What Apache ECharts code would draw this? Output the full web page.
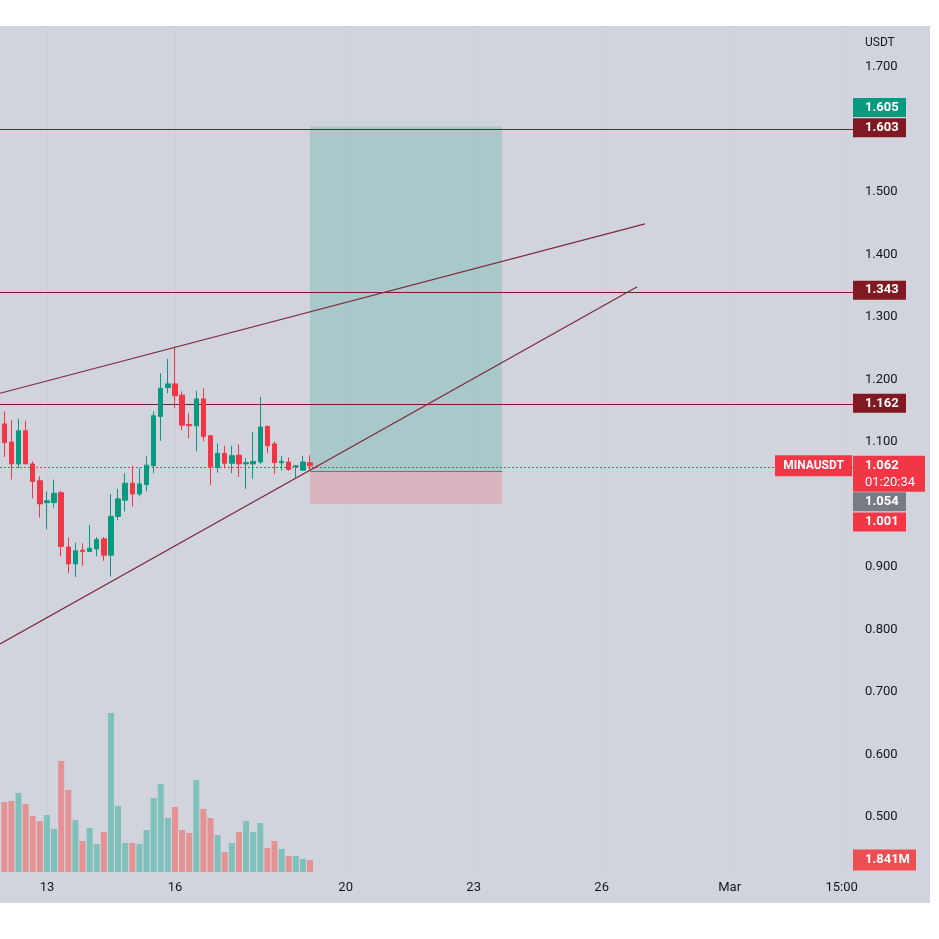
<!DOCTYPE html>
<html>
<head>
<meta charset="utf-8">
<title>MINAUSDT 4h</title>
<script src="https://cdn.jsdelivr.net/npm/echarts@6/dist/echarts.min.js"></script>
<style>
  html, body { margin: 0; padding: 0; background: #fff; }
  #main { position: absolute; left: 0; top: 26px; width: 930px; height: 877px; }
</style>
</head>
<body>
<div id="main"></div>
<script>
// 4h candles, index 0 = Feb 12 00:00
var candleOpen  = [1.129,1.100,1.065,1.118,1.065,1.038,1.003,1.003,1.019,0.932,0.905,0.927,0.925,0.929,0.945,0.919,0.981,1.007,1.034,1.017,1.032,1.062,1.141,1.187,1.193,1.175,1.128,1.126,1.169,1.110,1.059,1.082,1.066,1.079,1.065,1.065,1.068,1.125,1.097,1.067,1.068,1.061,1.055,1.067];
var candleClose = [1.099,1.065,1.118,1.065,1.037,1.001,1.006,1.018,0.933,0.905,0.926,0.925,0.930,0.944,0.919,0.981,1.009,1.034,1.017,1.033,1.063,1.142,1.186,1.193,1.174,1.127,1.126,1.169,1.109,1.061,1.082,1.066,1.078,1.065,1.067,1.069,1.124,1.094,1.067,1.069,1.056,1.062,1.068,1.062];
var candleLow   = [1.076,1.040,1.058,1.065,1.010,0.979,0.960,0.995,0.917,0.890,0.884,0.902,0.924,0.917,0.910,0.885,0.975,0.989,0.997,1.013,1.021,1.050,1.102,1.178,1.154,1.119,1.106,1.085,1.101,1.031,1.051,1.058,1.050,1.044,1.025,1.041,1.065,1.082,1.049,1.054,1.054,1.043,1.054,1.054];
var candleHigh  = [1.149,1.135,1.137,1.134,1.069,1.045,1.021,1.040,1.022,0.947,0.939,0.938,0.967,0.948,0.948,1.017,1.025,1.050,1.062,1.058,1.077,1.149,1.210,1.233,1.253,1.181,1.146,1.182,1.186,1.111,1.098,1.094,1.094,1.096,1.074,1.116,1.172,1.126,1.101,1.078,1.075,1.063,1.078,1.079];
// volume, millions
var volumes = [10.74,10.89,12.12,10.43,8.59,7.82,8.74,6.60,17.03,12.58,7.98,4.76,6.75,4.30,6.14,24.39,10.13,4.45,4.45,4.30,6.44,11.35,13.50,8.28,9.97,6.44,5.98,14.11,9.67,8.28,5.68,3.07,4.45,6.14,7.82,6.14,7.52,3.68,4.76,3.53,2.45,2.45,1.99,1.841];

var xTickIdx = [6, 24, 48, 66, 84, 102, 117.75];
var xTickText = ['13', '16', '20', '23', '26', 'Mar', '15:00'];
var priceTicks = [0.5, 0.6, 0.7, 0.8, 0.9, 1.1, 1.2, 1.3, 1.4, 1.5, 1.7];

var levels = [1.603, 1.343, 1.162];
var lastPrice = 1.062;
var upperTrend = [[-0.6, 1.178], [90.1, 1.449]];
var lowerTrend = [[-0.6, 0.777], [89.0, 1.3485]];
// long position tool
var posStart = 43, posEnd = 70;
var posTarget = 1.605, posEntry = 1.054, posStop = 1.001;

var tagPrices = [1.605, 1.603, 1.343, 1.162, 1.062, 1.054, 1.001];
var tagColors = ['#089981', '#801922', '#801922', '#801922', '#f23645', '#787b86', '#f23645'];
var tagShift = [-19, 0, 0, 0, 0, 31, 18]; // nudges so tags don't overlap

var X_MIN = -0.605, X_MAX = 119.35;
var UP = '#089981', DOWN = '#f23645';
var FONT = 'Roboto, "Liberation Sans", sans-serif';

var candles = candleOpen.map(function (o, i) {
    return [i, o, candleClose[i], candleLow[i], candleHigh[i]];
});
var volData = volumes.map(function (v, i) {
    return {
        value: [i, v],
        itemStyle: { color: candleClose[i] >= candleOpen[i] ? '#7fc0bb' : '#e59294' }
    };
});

function tagBox(x, y, w, h, fill, txt) {
    return [
        { type: 'rect', shape: { x: x, y: y, width: w, height: h }, style: { fill: fill } },
        { type: 'text', x: x + 12, y: y + h / 2, style: {
            text: txt, fill: '#fff', font: 'bold 13px ' + FONT, verticalAlign: 'middle', align: 'left' } }
    ];
}

var myChart = echarts.init(document.getElementById('main'));
var xSplit = { show: true, lineStyle: { color: '#cbced6', width: 1 } };

var option = {
    animation: false,
    backgroundColor: '#d1d4dc',
    textStyle: { fontFamily: FONT },
    graphic: [
        { type: 'text', left: 865, top: 11, style: { text: 'USDT', fill: '#131722', font: '12px ' + FONT } }
    ],
    grid: [
        { left: 0, top: 0, width: 853, height: 846 },
        { left: 0, top: 646, width: 853, height: 200 }
    ],
    xAxis: [
        { type: 'value', gridIndex: 0, min: X_MIN, max: X_MAX,
          axisLine: { show: false }, axisTick: { show: false, customValues: xTickIdx },
          axisLabel: { show: false, customValues: xTickIdx }, splitLine: xSplit },
        { type: 'value', gridIndex: 1, min: X_MIN, max: X_MAX,
          axisLine: { show: false }, axisTick: { show: false, customValues: xTickIdx },
          axisLabel: { customValues: xTickIdx, color: '#131722', fontSize: 13, margin: 9,
              formatter: function (v) {
                  var k = xTickIdx.indexOf(v);
                  return k < 0 ? '' : xTickText[k];
              } },
          splitLine: { show: false } }
    ],
    yAxis: [
        { type: 'value', gridIndex: 0, position: 'right', min: 0.412, max: 1.7656,
          axisLine: { show: false }, axisTick: { show: false, customValues: priceTicks },
          axisLabel: { customValues: priceTicks, color: '#131722', fontSize: 13, margin: 12,
              formatter: function (v) { return v.toFixed(3); } },
          splitLine: { show: false } },
        { type: 'value', gridIndex: 1, position: 'right', min: 0, max: 30.68, show: false,
          splitLine: { show: false } }
    ],
    series: [
        {
            name: 'vol', type: 'bar', xAxisIndex: 1, yAxisIndex: 1,
            barWidth: 6, data: volData, z: 1
        },
        {
            name: 'MINAUSDT', type: 'candlestick', xAxisIndex: 0, yAxisIndex: 0,
            barWidth: 5, data: candles, encode: { x: 0, y: [1, 2, 3, 4] }, z: 5,
            itemStyle: { color: UP, color0: DOWN, borderColor: UP, borderColor0: DOWN, borderWidth: 1 },
            markArea: {
                silent: true,
                data: [
                    [{ coord: [posStart, posTarget], itemStyle: { color: 'rgba(8,153,129,0.2)' } },
                     { coord: [posEnd, posEntry] }],
                    [{ coord: [posStart, posEntry], itemStyle: { color: 'rgba(242,54,69,0.2)' } },
                     { coord: [posEnd, posStop] }]
                ]
            },
            markLine: {
                silent: true, symbol: 'none', label: { show: false },
                data: levels.map(function (p) {
                    return { yAxis: p, lineStyle: { color: '#7b1b2b', width: 1.2, type: 'solid' } };
                }).concat([
                    { yAxis: lastPrice, lineStyle: { color: DOWN, width: 1, type: [2, 2] } },
                    [{ coord: [posStart, posEntry], lineStyle: { color: '#6f727c', width: 1, type: 'solid' } },
                     { coord: [posEnd, posEntry] }]
                ])
            }
        },
        {
            type: 'line', xAxisIndex: 0, yAxisIndex: 0, data: upperTrend, symbol: 'none', z: 6,
            lineStyle: { color: '#7e2a3b', width: 1.2 }
        },
        {
            type: 'line', xAxisIndex: 0, yAxisIndex: 0, data: lowerTrend, symbol: 'none', z: 6,
            lineStyle: { color: '#7e2a3b', width: 1.2 }
        },
        {
            type: 'custom', xAxisIndex: 0, yAxisIndex: 0, clip: false, silent: true, z: 20,
            data: tagPrices.map(function (p) { return [X_MAX, p]; }),
            renderItem: function (params, api) {
                var i = params.dataIndex;
                var pt = api.coord([api.value(0), api.value(1)]);
                var x = pt[0], y = pt[1] + tagShift[i];
                var txt = tagPrices[i].toFixed(3);
                var kids;
                if (tagPrices[i] === lastPrice) {
                    kids = [
                        { type: 'rect', shape: { x: x - 78, y: y - 10.5, width: 77, height: 21 }, style: { fill: DOWN } },
                        { type: 'text', x: x - 39.5, y: y, style: { text: 'MINAUSDT', fill: '#fff',
                            font: 'bold 12px ' + FONT, align: 'center', verticalAlign: 'middle' } },
                        { type: 'rect', shape: { x: x, y: y - 10, width: 72, height: 36 }, style: { fill: DOWN } },
                        { type: 'text', x: x + 12, y: y, style: { text: txt, fill: '#fff',
                            font: 'bold 13px ' + FONT, verticalAlign: 'middle' } },
                        { type: 'text', x: x + 12, y: y + 17, style: { text: '01:20:34', fill: '#fff',
                            font: '13px ' + FONT, verticalAlign: 'middle' } }
                    ];
                } else {
                    kids = tagBox(x, y - 9.5, 53, 19, tagColors[i], txt);
                }
                return { type: 'group', children: kids };
            }
        },
        {
            type: 'custom', xAxisIndex: 1, yAxisIndex: 1, clip: false, silent: true, z: 20,
            data: [[X_MAX, volumes[volumes.length - 1]]],
            renderItem: function (params, api) {
                var pt = api.coord([api.value(0), api.value(1)]);
                return { type: 'group', children: tagBox(pt[0], pt[1] - 10.5, 63, 21, '#ec4e52',
                    api.value(1).toFixed(3) + 'M') };
            }
        }
    ]
};

myChart.setOption(option);
</script>
</body>
</html>
